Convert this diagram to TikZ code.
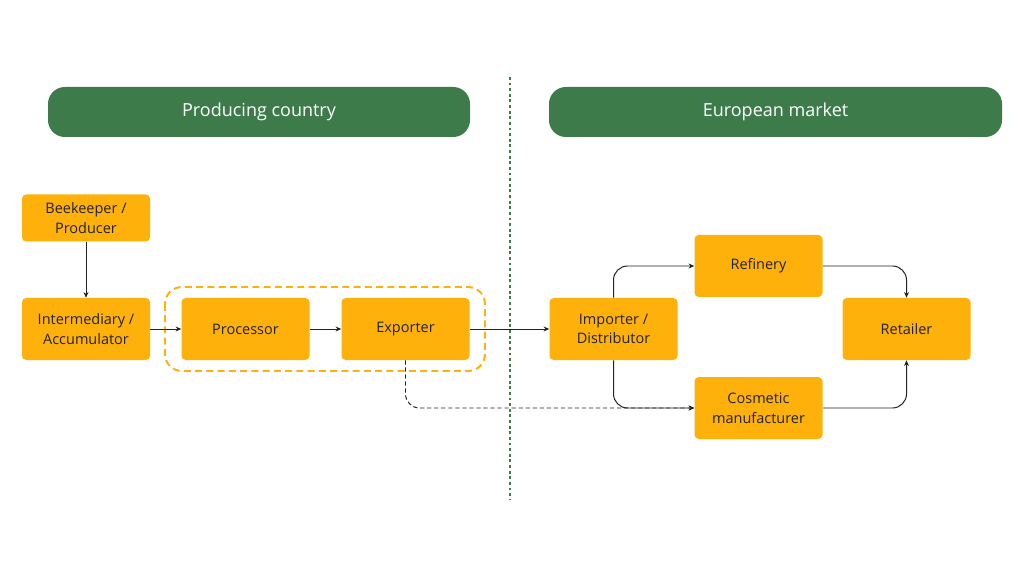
\documentclass[tikz,border=0pt]{standalone}
\usepackage{fontspec}
\setmainfont{Open Sans}
\usetikzlibrary{arrows.meta}
\definecolor{honey}{HTML}{FFB10B}
\definecolor{leaf}{HTML}{3D7C4A}
\definecolor{ink}{HTML}{222222}
\begin{document}
\begin{tikzpicture}[
x=0.025cm, y=-0.025cm,
actor/.style={
  fill=honey,
  rounded corners=3pt,
  minimum width=128*0.025cm,
  minimum height=62*0.025cm,
  align=center,
  text=ink,
  font=\fontsize{10.3}{14}\selectfont
  },
header/.style={
  fill=leaf,
  rounded corners=12pt,
  minimum height=50*0.025cm,
  text=white,
  font=\fontsize{12.8}{15}\selectfont
  },
flow/.style={-{Stealth[length=4pt,width=3.5pt]}, draw=ink, line width=0.7pt, rounded corners=10pt}
]
\useasboundingbox (0,0) rectangle (1024,576);
% regions
\node[header,minimum width=422*0.025cm] (prod) at (259,112) {Producing country};
\node[header,minimum width=453*0.025cm] (euro) at (775.5,112) {European market};
\draw[leaf,line width=2pt,dotted] (510,77) -- (510,500);
% actors
\node[actor,minimum height=47*0.025cm] (bee) at (86,218) {Beekeeper /\\Producer};
\node[actor] (inter) at (86,329) {Intermediary /\\Accumulator};
\node[actor] (proc) at (245.5,329) {Processor};
\node[actor] (expo) at (405.5,329) {Exporter};
\node[actor] (impo) at (613.5,329) {Importer /\\Distributor};
\node[actor] (refi) at (758.5,266) {Refinery};
\node[actor] (reta) at (906.5,329) {Retailer};
\node[actor] (cosm) at (758.5,408) {Cosmetic\\manufacturer};
\draw[honey,line width=1.4pt,dashed,dash pattern=on 5pt off 3pt,rounded corners=12pt]
  (165,287) rectangle (485,371);
% flows
\draw[flow] (bee) -- (inter);
\draw[flow] (inter) -- (proc);
\draw[flow] (proc) -- (expo);
\draw[flow] (expo) -- (impo);
\draw[flow] (impo.north) |- (refi.west);
\draw[flow] (impo.south) |- (cosm.west);
\draw[flow] (refi.east) -| (reta.north);
\draw[flow] (cosm.east) -| (reta.south);
\draw[flow,dashed,dash pattern=on 3pt off 2pt] (expo.south) |- (cosm.west);
\end{tikzpicture}
\end{document}
